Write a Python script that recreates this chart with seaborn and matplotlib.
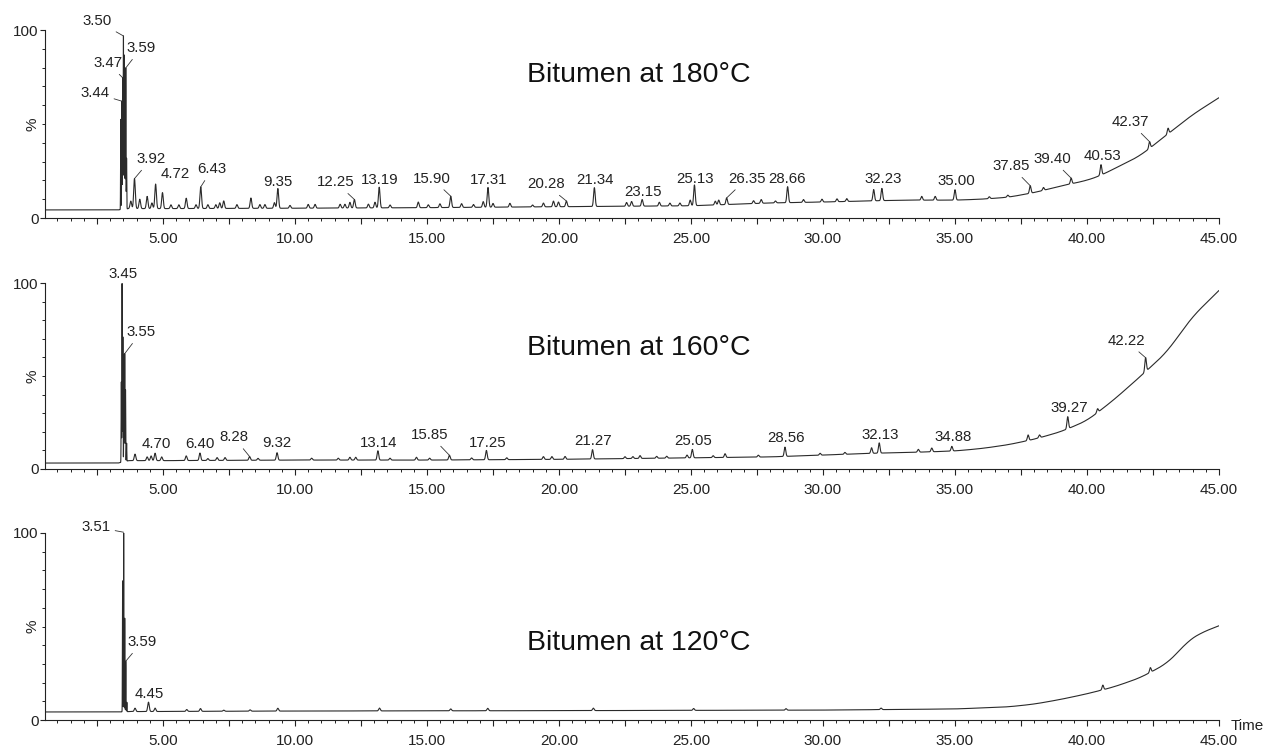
import numpy as np
import pandas as pd
import matplotlib
matplotlib.use("Agg")
import matplotlib.pyplot as plt
import seaborn as sns
from matplotlib.ticker import MultipleLocator, FixedLocator, FuncFormatter

# ---------------- data ----------------
titles = ["Bitumen at 180°C", "Bitumen at 160°C", "Bitumen at 120°C"]

# baseline knots (retention time, %)
base_t_180 = [0.53, 3.30, 3.70, 5, 10, 15, 20, 25, 28, 30, 33, 35, 36, 37, 38, 39, 40, 40.5, 41, 42, 43, 44, 45]
base_y_180 = [4.3, 4.3, 5.0, 5.0, 5.2, 5.5, 6.0, 6.5, 8.0, 8.5, 9.5, 9.5, 10, 11, 13.5, 17, 20, 22.5, 26, 33, 44, 55, 64]

base_t_160 = [0.53, 3.30, 3.70, 5, 10, 15, 20, 25, 28, 30, 32, 34, 35, 36, 37, 38, 39, 40, 41, 42, 43, 44, 45]
base_y_160 = [3.2, 3.2, 4.5, 4.5, 4.8, 4.8, 5.2, 6.0, 6.5, 7.5, 8.5, 9.2, 9.7, 11, 13, 16, 20, 26, 37, 49.5, 62.5, 82, 96]

base_t_120 = [0.53, 3.30, 3.70, 10, 20, 30, 35, 37, 38, 39, 40, 41, 42, 43, 43.4, 43.8, 44.3, 45]
base_y_120 = [4.3, 4.3, 4.5, 4.8, 5.0, 5.3, 5.9, 7.0, 8.5, 11, 14, 17.6, 22.5, 30, 35.5, 42, 46.5, 50.4]

# peaks (retention time, height above baseline in %)
peak_t_180 = [3.40, 3.44, 3.47, 3.50, 3.53, 3.56, 3.59, 3.62, 3.78, 3.92, 4.12, 4.40, 4.58, 4.72, 4.98,
              5.30, 5.60, 5.88, 6.25, 6.43, 6.70, 7.00, 7.15, 7.30, 7.80, 8.33, 8.67, 8.86, 9.22, 9.35,
              9.81, 10.50, 10.76, 11.71, 11.89, 12.08, 12.25, 12.78, 13.03, 13.19, 13.60, 14.67, 15.05,
              15.49, 15.90, 16.31, 16.76, 17.13, 17.31, 17.50, 18.14, 19.00, 19.41, 19.79, 19.98, 20.28,
              21.34, 22.56, 22.75, 23.15, 23.80, 24.20, 24.58, 24.97, 25.13, 25.92, 26.05, 26.35, 27.37,
              27.66, 28.20, 28.66, 29.26, 29.96, 30.53, 30.90, 31.92, 32.23, 33.74, 34.25, 35.00, 36.30,
              37.00, 37.85, 38.35, 39.40, 40.53, 42.37, 43.07]
peak_h_180 = [50, 60, 70, 96, 82, 78, 75, 28, 4, 16, 5, 6.5, 3, 13, 8.5,
              2, 2, 5.5, 2, 11.5, 2, 2, 3, 4, 2, 5.5, 2, 2, 3, 10.5,
              1.5, 2, 2, 2, 2, 3, 4.5, 2, 3, 11, 1.5, 3, 1.5,
              2, 6, 2, 1.5, 3, 10.5, 2, 2, 1, 2, 3, 2.5, 3,
              10, 2, 2.5, 3.5, 2, 1.5, 1.5, 3, 11, 2, 2.5, 3.5, 1.5,
              2, 1, 8.5, 1.5, 1.5, 1.5, 1.5, 6, 6.5, 2, 2, 5.5, 1,
              1, 4, 1.5, 3, 5.5, 3.5, 3]

peak_t_160 = [3.42, 3.45, 3.48, 3.52, 3.55, 3.58, 3.62, 3.94, 4.40, 4.55, 4.70, 4.95, 5.88, 6.40, 6.70,
              7.05, 7.35, 8.28, 8.60, 9.32, 10.63, 11.64, 12.08, 12.30, 13.14, 13.60, 14.60, 15.10, 15.85,
              16.69, 17.25, 18.02, 19.41, 19.73, 20.23, 21.27, 22.50, 22.80, 23.07, 23.70, 24.08, 24.85,
              25.05, 25.84, 26.29, 27.55, 28.56, 29.89, 30.83, 31.84, 32.13, 33.61, 34.12, 34.88, 37.77,
              38.20, 39.27, 40.40, 42.22]
peak_h_160 = [45, 96, 70, 60, 58, 40, 10, 3.5, 2, 2.5, 4, 2, 2.5, 4, 1,
              1.5, 1.5, 2, 1, 4, 1, 1, 1.5, 1.5, 5, 1, 1.5, 1, 2.5,
              1, 5, 1, 1.5, 1.5, 1.5, 5, 1, 1, 1.5, 1, 1, 1.5,
              4.5, 1, 2, 1, 5, 1, 1, 3, 5.5, 1.5, 2, 2.5, 3,
              1.5, 6.5, 2, 7.5]

peak_t_120 = [3.47, 3.51, 3.55, 3.59, 3.63, 3.94, 4.45, 4.70, 5.90, 6.42, 7.30, 8.30, 9.35, 13.20,
              15.90, 17.30, 21.30, 25.10, 28.60, 32.20, 40.60, 42.40]
peak_h_120 = [70, 96, 50, 27, 5, 1.8, 5, 1.8, 1, 1.5, 0.6, 0.7, 1.5, 1.5,
              1, 1.3, 1.3, 1, 0.8, 0.8, 2.5, 2.5]

# peak labels shown on each trace
labels_180 = ["3.50", "3.59", "3.47", "3.44", "3.92", "4.72", "6.43", "9.35", "12.25", "13.19", "15.90",
              "17.31", "20.28", "21.34", "23.15", "25.13", "26.35", "28.66", "32.23", "35.00", "37.85",
              "39.40", "40.53", "42.37"]
labels_160 = ["3.45", "3.55", "4.70", "6.40", "8.28", "9.32", "13.14", "15.85", "17.25", "21.27", "25.05",
              "28.56", "32.13", "34.88", "39.27", "42.22"]
labels_120 = ["3.51", "3.59", "4.45"]

# ---------------- layout (text placement, data coords) ----------------
label_pos_180 = [(2.50, 104.8, True), (4.17, 90.4, True), (2.92, 82.4, True), (2.42, 66.5, True),
                 (4.55, 31.4, True), (5.45, 23.5, True), (6.86, 26.0, True), (9.36, 19.0, False),
                 (11.55, 19.0, True), (13.22, 20.0, False), (15.19, 21.0, True), (17.35, 20.0, False),
                 (19.50, 18.0, True), (21.36, 20.0, False), (23.18, 13.8, False), (25.15, 21.0, False),
                 (27.12, 21.0, True), (28.64, 21.0, False), (32.27, 21.0, False), (35.04, 19.6, False),
                 (37.12, 27.6, True), (38.67, 31.4, True), (40.57, 33.0, False), (41.63, 51.0, True)]
label_pos_160 = [(3.48, 104.8, False), (4.17, 73.6, True), (4.73, 13.4, False), (6.40, 13.4, False),
                 (7.69, 17.0, True), (9.32, 14.0, False), (13.18, 14.0, False), (15.11, 18.3, True),
                 (17.31, 14.0, False), (21.29, 15.0, False), (25.08, 15.0, False), (28.60, 16.7, False),
                 (32.16, 18.3, False), (34.92, 17.0, False), (39.32, 33.0, False), (41.48, 69.0, True)]
label_pos_120 = [(2.46, 103.2, True), (4.20, 41.7, True), (4.47, 13.9, False)]

sns.set_theme(style="ticks")
plt.rcParams['font.family'] = ['Liberation Sans', 'DejaVu Sans']

W, H = 1275, 747
fig = plt.figure(figsize=(W / 100, H / 100), dpi=100)

def axes_rect(bottom_px, top_px):
    return [45 / W, 1 - bottom_px / H, (1219 - 45) / W, (bottom_px - top_px) / H]

t_grid = np.arange(0.53, 45.0001, 0.004)

def smooth(y, n):
    # odd reflection at the ends keeps the end slope
    left = 2 * y[0] - y[n:0:-1]
    right = 2 * y[-1] - y[-2:-n - 2:-1]
    pad = np.concatenate([left, y, right])
    k = np.ones(2 * n + 1) / (2 * n + 1)
    return np.convolve(pad, k, mode="same")[n:-n]

def build_trace(bt, by, pt, ph):
    base = np.interp(t_grid, bt, by)
    sm = smooth(base, 90)
    y = np.where(t_grid > 6, sm, base)
    for t, h in zip(pt, ph):
        s = 0.007 if t < 3.7 else 0.03
        y = y + h * np.exp(-0.5 * ((t_grid - t) / s) ** 2)
    return y

panels = [
    (axes_rect(218, 30), base_t_180, base_y_180, peak_t_180, peak_h_180, labels_180, label_pos_180, 0.76),
    (axes_rect(469, 283), base_t_160, base_y_160, peak_t_160, peak_h_160, labels_160, label_pos_160, 0.65),
    (axes_rect(720, 533), base_t_120, base_y_120, peak_t_120, peak_h_120, labels_120, label_pos_120, 0.41),
]

line_col = "#2a2a2a"
fmt = FuncFormatter(lambda v, p: f"{v:.2f}" if abs(v / 5 - round(v / 5)) < 1e-6 and v > 0 else "")

for i, (rect, bt, by, pt, ph, labs, lpos, ty_title) in enumerate(panels):
    ax = fig.add_axes(rect)
    sig = build_trace(bt, by, pt, ph)
    df = pd.DataFrame({"time": t_grid, "signal": sig})
    sns.lineplot(data=df, x="time", y="signal", ax=ax, color=line_col, linewidth=0.8,
                 estimator=None, sort=False)
    ax.set_xlim(0.53, 45)
    ax.set_ylim(0, 100)
    ax.set_xlabel("")
    ax.set_ylabel("")
    sns.despine(ax=ax)
    for sp in ["left", "bottom"]:
        ax.spines[sp].set_color("#222222")
        ax.spines[sp].set_linewidth(0.8)

    ax.xaxis.set_major_locator(MultipleLocator(2.5))
    ax.xaxis.set_minor_locator(MultipleLocator(0.5))
    ax.xaxis.set_major_formatter(fmt)
    ax.tick_params(axis="x", which="major", length=4.5, width=0.8, pad=5.5, labelsize=11,
                   colors="#222222", direction="out")
    ax.tick_params(axis="x", which="minor", length=2.2, width=0.7, colors="#222222", direction="out")
    ax.yaxis.set_major_locator(FixedLocator([0, 100]))
    ax.yaxis.set_minor_locator(MultipleLocator(10))
    ax.tick_params(axis="y", which="major", length=3.6, width=0.8, pad=1, labelsize=11,
                   colors="#222222", direction="out")
    ax.tick_params(axis="y", which="minor", length=2.0, width=0.7, colors="#222222", direction="out")

    ax.text(-0.011, 0.5, "%", transform=ax.transAxes, rotation=90, ha="center", va="center",
            fontsize=11, color="#222222")
    ax.text(0.506, ty_title, titles[i], transform=ax.transAxes, ha="center", va="center",
            fontsize=20.5, color="#111111")

    for lab, (tx, tyy, leader) in zip(labs, lpos):
        tp = float(lab)
        idx = int(np.argmin(np.abs(t_grid - tp)))
        yp = sig[idx]
        if leader:
            ax.annotate(lab, xy=(tp, yp), xytext=(tx, tyy), textcoords="data", ha="center",
                        va="center", fontsize=10.8, color="#222222", annotation_clip=False,
                        arrowprops=dict(arrowstyle="-", lw=0.6, color="#333333", shrinkA=1, shrinkB=0))
        else:
            ax.text(tx, tyy, lab, ha="center", va="center", fontsize=10.8, color="#222222", clip_on=False)

    if i == 2:
        ax.text(1.024, -0.03, "Time", transform=ax.transAxes, ha="center", va="center",
                fontsize=11, color="#222222")

fig.savefig("out.png", dpi=100)
